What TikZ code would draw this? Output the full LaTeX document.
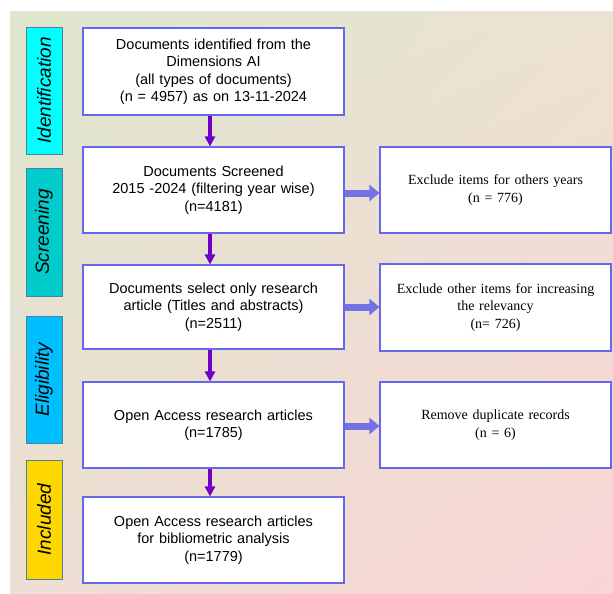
\documentclass[tikz,border=0pt]{standalone}
\usepackage{fontspec}
\setmainfont{Liberation Sans}
\newfontfamily\serifrm{Liberation Serif}
\usetikzlibrary{arrows.meta,shadings}
\definecolor{bgTL}{HTML}{DDE6CE}
\definecolor{bgTR}{HTML}{ECE2D3}
\definecolor{bgBL}{HTML}{EDDFD3}
\definecolor{bgBR}{HTML}{F9D5D5}
\definecolor{boxblue}{HTML}{6666EE}
\definecolor{stageline}{HTML}{4F7FA0}
\definecolor{downpurple}{HTML}{7000C8}
\definecolor{sidearrow}{HTML}{7272E6}
\definecolor{stIdent}{HTML}{00FFFF}
\definecolor{stScreen}{HTML}{00CCCC}
\definecolor{stElig}{HTML}{00BFFF}
\definecolor{stIncl}{HTML}{FFD700}
\begin{document}
\begin{tikzpicture}[x=1pt,y=-1pt,
  mainbox/.style={draw=boxblue, fill=white, line width=1.1pt, minimum width=261pt,
    inner sep=0pt, align=center, text width=250pt,
    font=\fontsize{14.5}{17.5}\selectfont},
  sidebox/.style={draw=boxblue, fill=white, line width=1.1pt, minimum width=231pt,
    inner sep=0pt, align=center, text width=225pt,
    font=\serifrm\fontsize{14}{17.5}\selectfont},
  stagebox/.style={draw=stageline, line width=0.9pt, minimum width=36pt, inner sep=0pt},
  stagetext/.style={rotate=90, font=\itshape\fontsize{19}{22}\selectfont, inner sep=0pt},
  downarrow/.style={draw=downpurple, line width=3.8pt,
    -{Triangle[width=10pt,length=10pt]}},
  sidearr/.style={draw=sidearrow, line width=7pt,
    -{Triangle[width=16pt,length=10pt]}}
]
\useasboundingbox (0,0) rectangle (613,594);
\shade[upper left=bgTL, upper right=bgTR, lower left=bgBL, lower right=bgBR]
  (10,12) rectangle (613,594);

% stage labels
\node[stagebox, fill=stIdent, minimum height=127pt] (s1) at (44,90.5) {};
\node[stagetext] (s1t) at (s1.center) {Identification};
\node[stagebox, fill=stScreen, minimum height=128pt] (s2) at (44,232) {};
\node[stagetext] (s2t) at (s2.center) {Screening};
\node[stagebox, fill=stElig, minimum height=127pt] (s3) at (44,379.5) {};
\node[stagetext] (s3t) at (s3.center) {Eligibility};
\node[stagebox, fill=stIncl, minimum height=119pt] (s4) at (44,519.5) {};
\node[stagetext] (s4t) at (s4.center) {Included};

% main column
\node[mainbox, minimum height=87pt] (b1) at (213.5,71.5)
  {Documents identified from the\\Dimensions AI\\(all types of documents)\\(n = 4957) as on 13-11-2024};
\node[mainbox, minimum height=86pt] (b2) at (213.5,190)
  {Documents Screened\\2015 -2024 (filtering year wise)\\(n=4181)};
\node[mainbox, minimum height=84pt] (b3) at (213.5,307)
  {Documents select only research\\article (Titles and abstracts)\\(n=2511)};
\node[mainbox, minimum height=86pt] (b4) at (213.5,425)
  {Open Access research articles\\(n=1785)};
\node[mainbox, minimum height=86pt] (b5) at (213.5,540)
  {Open Access research articles\\for bibliometric analysis\\(n=1779)};

% right column
\node[sidebox, minimum height=86pt] (r1) at (495.5,190)
  {Exclude items for others years\\(n = 776)};
\node[sidebox, minimum height=87pt] (r2) at (495.5,307.5)
  {Exclude other items for increasing\\the relevancy\\(n= 726)};
\node[sidebox, minimum height=86pt] (r3) at (495.5,425)
  {Remove duplicate records\\(n = 6)};

% connectors
\draw[downarrow] (b1.south -| 210,0) -- (b2.north -| 210,0);
\draw[downarrow] (b2.south -| 210,0) -- (b3.north -| 210,0);
\draw[downarrow] (b3.south -| 210,0) -- (b4.north -| 210,0);
\draw[downarrow] (b4.south -| 210,0) -- (b5.north -| 210,0);

\draw[sidearr] ([yshift=-3pt]b2.east) -- ([yshift=-3pt]r1.west);
\draw[sidearr] (b3.east) -- (r2.west |- b3.east);
\draw[sidearr] ([yshift=-1pt]b4.east) -- ([yshift=-1pt]r3.west);
\end{tikzpicture}
\end{document}
